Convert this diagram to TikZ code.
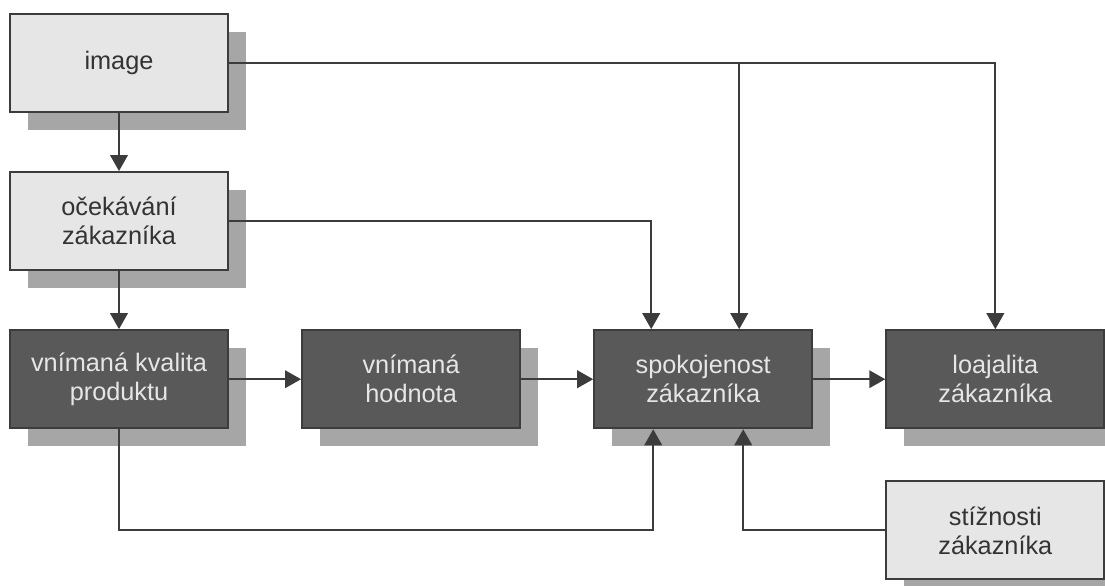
\documentclass[tikz,border=0pt]{standalone}
\usepackage{fontspec}
\setmainfont{Liberation Sans}
\usetikzlibrary{arrows.meta,positioning,shadows,calc}
\definecolor{lightfill}{HTML}{E6E6E6}
\definecolor{darkfill}{HTML}{595959}
\definecolor{shadowgray}{HTML}{A6A6A6}
\definecolor{edgegray}{HTML}{3C3C3C}
\definecolor{lighttext}{HTML}{E6E6E6}
\definecolor{darktext}{HTML}{333333}
\begin{document}
\begin{tikzpicture}[font=\fontsize{18}{20.6}\selectfont,node distance=1.45cm and 1.8cm,
 box/.style={draw=edgegray,line width=1.5pt,minimum width=5.45cm,minimum height=2.45cm,align=center,inner sep=2pt,
  drop shadow={shadow xshift=0.45cm,shadow yshift=-0.45cm,fill=shadowgray,opacity=1}},
 lbox/.style={box,fill=lightfill,text=darktext},
 dbox/.style={box,fill=darkfill,text=lighttext},
 conn/.style={-{Triangle[length=4mm,width=4.4mm]},draw=edgegray,line width=1.3pt}]
\useasboundingbox (0,0) rectangle (27.625,-14.625);
\node[lbox] (img) at (2.975,-1.575) {image};
\node[lbox,below=of img] (ocek) {očekávání\\zákazníka};
\node[dbox,below=of ocek] (kval) {vnímaná kvalita\\produktu};
\node[dbox,right=of kval] (hodn) {vnímaná\\hodnota};
\node[dbox,right=of hodn] (spok) {spokojenost\\zákazníka};
\node[dbox,right=of spok] (loaj) {loajalita\\zákazníka};
\node[lbox,below=1.275cm of loaj] (stiz) {stížnosti\\zákazníka};
\coordinate (sTopL) at ($(spok.north)+(-1.3,0)$);
\coordinate (sTopR) at ($(spok.north)+(0.9,0)$);
\coordinate (sBotL) at ($(spok.south)+(-1.25,0)$);
\coordinate (sBotR) at ($(spok.south)+(1.0,0)$);
\draw[conn] (img) -- (ocek);
\draw[conn] (ocek) -- (kval);
\draw[conn] (kval) -- (hodn);
\draw[conn] (hodn) -- (spok);
\draw[conn] (spok) -- (loaj);
\draw[conn] (img.east) -| (loaj.north);
\draw[conn] (img.east -| sTopR) -- (sTopR);
\draw[conn] (ocek.east) -| (sTopL);
\draw[conn] (kval.south) -- (kval.south |- stiz.west) -| (sBotL);
\draw[conn] (stiz.west) -| (sBotR);
\end{tikzpicture}
\end{document}
